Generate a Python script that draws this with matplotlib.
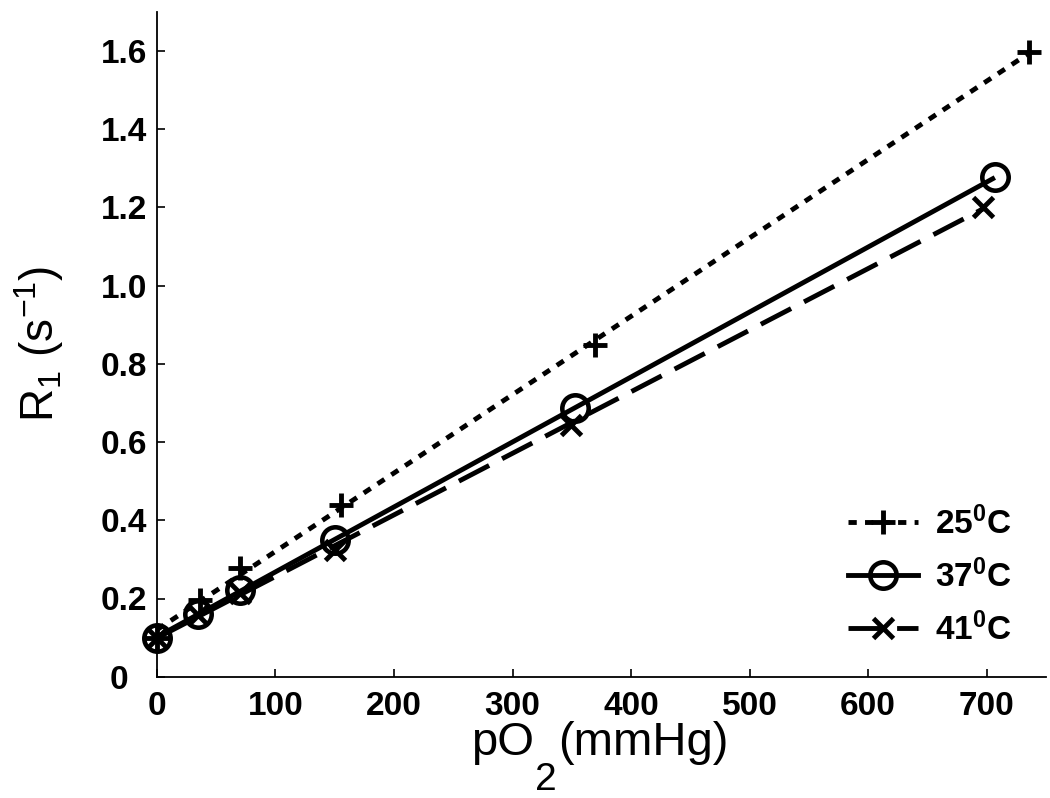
import numpy as np
import matplotlib
matplotlib.use("Agg")
import matplotlib.pyplot as plt

# ---- data ----
x25 = [0, 36, 70, 155, 370, 736]
y25 = [0.10, 0.196, 0.278, 0.44, 0.848, 1.598]
x37 = [0, 35, 70, 150, 353, 707]
y37 = [0.10, 0.160, 0.222, 0.350, 0.687, 1.277]
x41 = [0, 35, 70, 150, 349, 697]
y41 = [0.10, 0.158, 0.215, 0.325, 0.644, 1.200]
labels = ["25$\\mathregular{^0}$C", "37$\\mathregular{^0}$C", "41$\\mathregular{^0}$C"]
xticks = [0, 100, 200, 300, 400, 500, 600, 700]
yticks = [0, 0.2, 0.4, 0.6, 0.8, 1.0, 1.2, 1.4, 1.6]
yticklabels = ["0  ", "0.2", "0.4", "0.6", "0.8", "1.0", "1.2", "1.4", "1.6"]

plt.rcParams["font.family"] = ["Liberation Sans", "DejaVu Sans"]

W, H = 1050, 798
fig = plt.figure(figsize=(W / 100, H / 100), dpi=100)
ax = fig.add_axes([0.1495, 0.152, 0.8465, 0.833])

lw = 3.5
styles = [
    dict(ls=(0, (1.7, 1.7)), marker="+", ms=17, mew=3.5),
    dict(ls="-", marker="o", ms=19, mew=3.3, mfc="none"),
    dict(ls=(0, (7, 3)), marker="x", ms=15, mew=3.5),
]
series = [(x25, y25), (x37, y37), (x41, y41)]
handles = []
for (xs, ys), st, lab in zip(series, styles, labels):
    xs = np.asarray(xs, float)
    ys = np.asarray(ys, float)
    p = np.polyfit(xs, ys, 1)
    xl = np.array([xs.min(), xs.max()])
    ax.plot(xl, np.polyval(p, xl), color="black", lw=lw, ls=st["ls"],
            dash_capstyle="butt", solid_capstyle="butt", clip_on=False)
    ax.plot(xs, ys, ls="none", marker=st["marker"], ms=st["ms"], mew=st["mew"],
            mfc=st.get("mfc", "black"), mec="black", clip_on=False)
    h, = ax.plot([], [], color="black", lw=lw, ls=st["ls"], marker=st["marker"],
                 ms=st["ms"], mew=st["mew"], mfc=st.get("mfc", "black"), mec="black",
                 dash_capstyle="butt")
    handles.append(h)

ax.set_xlim(0, 750)
ax.set_ylim(0, 1.7)
ax.set_xticks(xticks)
ax.set_yticks(yticks)
ax.set_yticklabels(yticklabels)
for s in ["top", "right"]:
    ax.spines[s].set_visible(False)
for s in ["left", "bottom"]:
    ax.spines[s].set_linewidth(1.3)
ax.tick_params(direction="in", length=6, width=1.2, labelsize=24)
ax.tick_params(axis="x", pad=10)
ax.tick_params(axis="y", pad=7)
for t in ax.get_xticklabels() + ax.get_yticklabels():
    t.set_fontweight("bold")

# y label
ax.set_ylabel("R$\\mathregular{_1}$ (s$\\mathregular{^{-1}}$)", fontsize=33)
ax.yaxis.set_label_coords(-0.102, 0.5)

# x label built from pieces (large subscript as in the original)
fig.canvas.draw()
r = fig.canvas.get_renderer()
base_y = 1 - 755 / H
sub_y = 1 - 790 / H
t1 = fig.text(471 / W, base_y, "pO", fontsize=34, ha="left", va="baseline")
bb1 = t1.get_window_extent(r)
t2 = fig.text((bb1.x1 + 1) / W, sub_y, "2", fontsize=28, ha="left", va="baseline")
bb2 = t2.get_window_extent(r)
t3 = fig.text((bb2.x1 + 1) / W, base_y, "(mmHg)", fontsize=34, ha="left", va="baseline")

leg = ax.legend(handles, labels, loc="lower right", bbox_to_anchor=(0.995, 0.0),
                frameon=False, handlelength=2.1, handletextpad=0.5,
                labelspacing=0.55, prop=dict(size=24, weight="bold"))

fig.savefig("out.png", dpi=100)
